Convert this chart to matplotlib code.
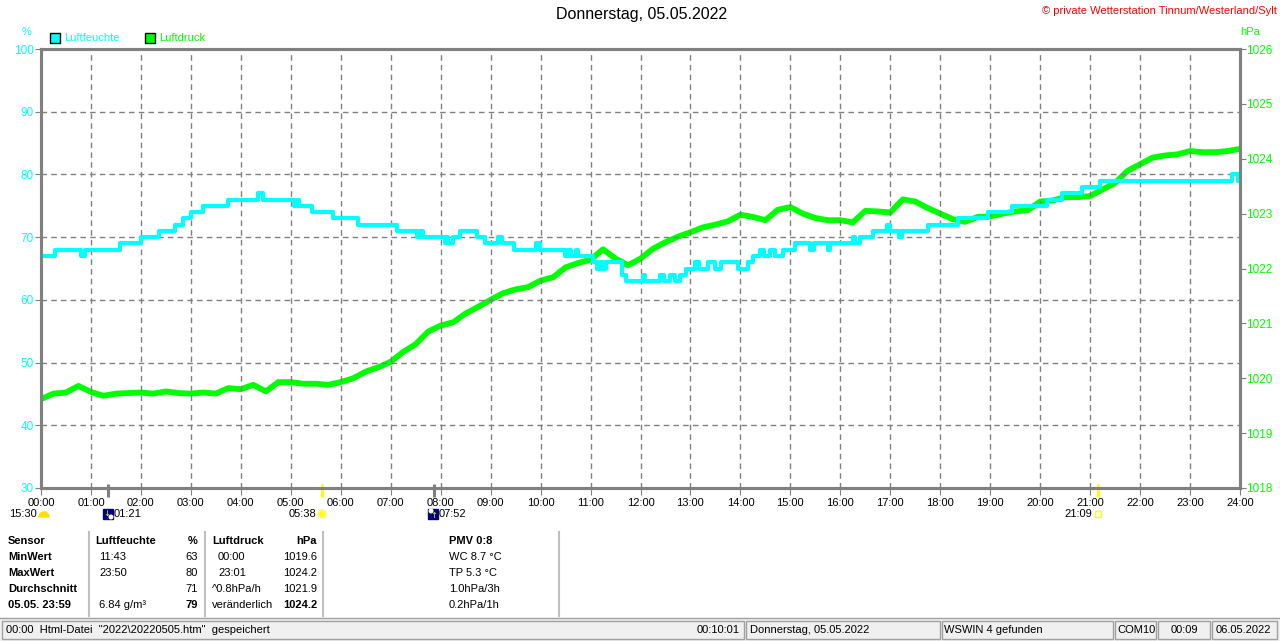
import numpy as np
import matplotlib
matplotlib.use("Agg")
from matplotlib import pyplot as plt
from matplotlib.patches import Rectangle, Circle, Wedge
from matplotlib.transforms import IdentityTransform

plt.rcParams['font.family'] = ['Liberation Sans', 'DejaVu Sans']

# humidity (%), step changes: hour -> value
hum_times = [0, 0.28, 0.80, 0.88, 1.58, 2.0, 2.36, 2.68, 2.85, 3.0, 3.25, 3.74,
             4.35, 4.45, 5.07, 5.12, 5.17, 5.42, 5.85, 6.35, 7.12, 7.52, 7.58,
             7.65, 8.08, 8.12, 8.14, 8.24, 8.39, 8.73, 8.89, 9.15, 9.22, 9.47,
             9.9, 9.98, 10.49, 10.55, 10.6, 10.7, 10.75, 11.05, 11.12, 11.18,
             11.25, 11.3, 11.62, 11.7, 12.05, 12.1, 12.4, 12.47, 12.6, 12.7,
             12.8, 12.92, 13.1, 13.18, 13.35, 13.5, 13.62, 13.95, 14.16, 14.26,
             14.4, 14.47, 14.6, 14.7, 14.85, 15.1, 15.4, 15.47, 15.75, 15.8,
             16.25, 16.3, 16.4, 16.65, 16.94, 16.99, 17.18, 17.23, 17.76, 18.35,
             18.96, 19.43, 20.13, 20.43, 20.84, 21.2, 23.83, 23.96, 24.0]
hum_values = [67, 68, 67, 68, 69, 70, 71, 72, 73, 74, 75, 76,
              77, 76, 75, 76, 75, 74, 73, 72, 71, 70, 71,
              70, 69, 70, 69, 70, 71, 70, 69, 70, 69, 68,
              69, 68, 67, 68, 67, 68, 67, 66, 65, 66,
              65, 66, 64, 63, 64, 63, 64, 63, 64, 63,
              64, 65, 66, 65, 66, 65, 66, 65, 66, 67,
              68, 67, 68, 67, 68, 69, 68, 69, 68, 69,
              70, 69, 70, 71, 72, 71, 70, 71, 72, 73,
              74, 75, 76, 77, 78, 79, 80, 79, 79]

# air pressure (hPa), every 15 minutes 00:00 .. 24:00
press_values = [1019.62, 1019.72, 1019.74, 1019.86, 1019.75, 1019.68, 1019.72, 1019.73,
                1019.74, 1019.72, 1019.76, 1019.73, 1019.72, 1019.74, 1019.72, 1019.82,
                1019.80, 1019.88, 1019.76, 1019.93, 1019.93, 1019.90, 1019.90, 1019.88,
                1019.93, 1020.00, 1020.12, 1020.20, 1020.30, 1020.48, 1020.62, 1020.85,
                1020.96, 1021.02, 1021.18, 1021.30, 1021.43, 1021.55, 1021.62, 1021.66,
                1021.78, 1021.84, 1022.02, 1022.10, 1022.16, 1022.35, 1022.18, 1022.06,
                1022.18, 1022.36, 1022.48, 1022.58, 1022.66, 1022.75, 1022.80, 1022.86,
                1022.98, 1022.94, 1022.88, 1023.07, 1023.12, 1023.00, 1022.92, 1022.88,
                1022.88, 1022.84, 1023.05, 1023.04, 1023.02, 1023.26, 1023.22, 1023.10,
                1023.00, 1022.90, 1022.85, 1022.94, 1022.95, 1023.00, 1023.04, 1023.06,
                1023.22, 1023.24, 1023.30, 1023.30, 1023.32, 1023.44, 1023.56, 1023.78,
                1023.90, 1024.02, 1024.06, 1024.08, 1024.14, 1024.12, 1024.12, 1024.14,
                1024.18]
press_times = np.linspace(0, 24, len(press_values))

hours = list(range(25))
hour_labels = ["%02d:00" % h for h in hours]
hum_ticks = [30, 40, 50, 60, 70, 80, 90, 100]
press_ticks = [1018, 1019, 1020, 1021, 1022, 1023, 1024, 1025, 1026]

CYAN = '#00FFFF'
GREEN = '#00FF00'
GRAY = '#808080'
YELLOW = '#FFFF00'

W, H = 1280, 641
PIX = IdentityTransform()


def fx(x):
    return x / W


def fy(y):
    return 1 - y / H


def txt(x, y, s, **kw):
    kw.setdefault('fontsize', 8)
    kw.setdefault('va', 'center')
    fig.text(fx(x), fy(y), s, **kw)


def rect(x, y, w, h, **kw):
    # x, y = top-left corner in image pixels
    fig.patches.append(Rectangle((x, H - y - h), w, h, transform=PIX, **kw))


fig = plt.figure(figsize=(12.8, 6.41), dpi=100)
fig.patch.set_facecolor('white')

ax = fig.add_axes([fx(41), fy(488), (1240 - 41) / W, (488 - 49) / H])
ax2 = ax.twinx()
# humidity on top of pressure
ax.set_zorder(ax2.get_zorder() + 1)
ax.patch.set_visible(False)

ax2.plot(press_times, press_values, color=GREEN, lw=4.2)
ax.step(hum_times, hum_values, where='post', color=CYAN, lw=3.0)

ax.set_xlim(0, 24)
ax.set_ylim(30, 100)
ax2.set_ylim(1018, 1026)

ax.set_xticks(hours)
ax.set_xticklabels(hour_labels)
ax.set_yticks(hum_ticks)
ax2.set_yticks(press_ticks)
ax.grid(True, color=GRAY, ls=(0, (4, 3)), lw=1.0)

ax.tick_params(axis='x', colors=GRAY, labelcolor='black', labelsize=8, length=5, pad=2)
ax.tick_params(axis='y', colors=GRAY, labelcolor=CYAN, labelsize=8.5, length=4, pad=1)
ax2.tick_params(axis='y', colors=GRAY, labelcolor=GREEN, labelsize=8.5, length=4, pad=0.5)

for a in (ax, ax2):
    for side in ('left', 'right', 'top', 'bottom'):
        a.spines[side].set_color(GRAY)
        a.spines[side].set_linewidth(2.2)

# rise/set marks on the time axis
ax.plot([1.35, 1.35], [30.6, 28.6], color=GRAY, lw=2.2, clip_on=False, solid_capstyle='butt')
ax.plot([5.63, 5.63], [30.6, 28.6], color=YELLOW, lw=2.2, clip_on=False, solid_capstyle='butt')
ax.plot([7.87, 7.87], [30.6, 28.6], color=GRAY, lw=2.2, clip_on=False, solid_capstyle='butt')
ax.plot([21.15, 21.15], [30.6, 28.6], color=YELLOW, lw=2.2, clip_on=False, solid_capstyle='butt')

# title and header texts
txt(642, 15, "Donnerstag, 05.05.2022", fontsize=11.5, ha='center')
txt(1277, 11, "\u00a9 private Wetterstation Tinnum/Westerland/Sylt", color='red', ha='right')
txt(27, 32, "%", color=CYAN, ha='center')
txt(1250, 32, "hPa", color=GREEN, ha='center')

# legend
rect(50, 33, 10, 10, facecolor=CYAN, edgecolor='black', lw=1)
txt(64, 38, "Luftfeuchte", color=CYAN)
rect(145, 33, 10, 10, facecolor=GREEN, edgecolor='black', lw=1)
txt(159, 38, "Luftdruck", color=GREEN)

# sun / moon row
txt(37, 514, "15:30", ha='right')
fig.patches.append(Wedge((44, H - 517), 5, 0, 180, transform=PIX,
                         facecolor='#FFE000', edgecolor='#FFE000'))
rect(103, 509, 10, 10, facecolor='#000080', edgecolor='#000080')
fig.patches.append(Circle((111, H - 517), 2.5, transform=PIX, facecolor='white', edgecolor='none'))
txt(107, 513, "\u2193", color=YELLOW, fontsize=6, ha='center', family='DejaVu Sans')
txt(114, 514, "01:21")
txt(316, 514, "05:38", ha='right')
fig.patches.append(Circle((322, H - 514), 4, transform=PIX,
                          facecolor=YELLOW, edgecolor='#FFF4A0', lw=1.5))
rect(428, 509, 10, 10, facecolor='#000080', edgecolor='#000080')
fig.patches.append(Circle((431, H - 511), 2.5, transform=PIX, facecolor='white', edgecolor='none'))
txt(434, 515, "\u2191", color=YELLOW, fontsize=6, ha='center', family='DejaVu Sans')
txt(439, 514, "07:52")
txt(1092, 514, "21:09", ha='right')
rect(1095, 511, 6, 6, facecolor='white', edgecolor=YELLOW, lw=1)

# data table
for xs in (89, 205, 323, 559):
    fig.lines.append(plt.Line2D([fx(xs), fx(xs)], [fy(532), fy(616)], transform=fig.transFigure,
                                color='#C0C0C0', lw=1.5))

rows_y = [541, 557, 573, 589, 605]
sensor_col = ["Sensor", "MinWert", "MaxWert", "Durchschnitt", "05.05. 23:59"]
hum_time_col = ["Luftfeuchte", "11:43", "23:50", "", "6.84 g/m\u00b3"]
hum_val_col = ["%", "63", "80", "71", "79"]
press_time_col = ["Luftdruck", "00:00", "23:01", "^0.8hPa/h", "ver\u00e4nderlich"]
press_val_col = ["hPa", "1019.6", "1024.2", "1021.9", "1024.2"]
extra_col = ["PMV 0:8", "WC 8.7 \u00b0C", "TP 5.3 \u00b0C", "1.0hPa/3h", "0.2hPa/1h"]

for i, y in enumerate(rows_y):
    head = i == 0
    last = i == 4
    txt(8, y, sensor_col[i], fontweight='bold')
    txt(95 if head else 99, y, hum_time_col[i], fontweight='bold' if head else 'normal')
    txt(198, y, hum_val_col[i], ha='right', fontweight='bold' if (head or last) else 'normal')
    txt(212 if (head or i > 2) else 218, y, press_time_col[i], fontweight='bold' if head else 'normal')
    txt(317, y, press_val_col[i], ha='right', fontweight='bold' if (head or last) else 'normal')
    txt(449, y, extra_col[i], fontweight='bold' if head else 'normal')

# status bar
rect(0, 618, W, 23, facecolor='#F0F0F0', edgecolor='none')
fig.lines.append(plt.Line2D([0, 1], [fy(618), fy(618)], transform=fig.transFigure,
                            color='#A0A0A0', lw=1))
panels = [(2, 744), (746, 940), (942, 1113), (1115, 1156), (1158, 1210), (1212, 1277)]
for x0, x1 in panels:
    rect(x0, 621, x1 - x0, 18, facecolor='#F0F0F0', edgecolor='#A0A0A0', lw=1)
txt(6, 630, '00:00  Html-Datei  "2022\\20220505.htm"  gespeichert')
txt(740, 630, "00:10:01", ha='right')
txt(750, 630, "Donnerstag, 05.05.2022")
txt(944, 630, "WSWIN 4 gefunden")
txt(1117, 630, "COM10")
txt(1184, 630, "00:09", ha='center')
txt(1216, 630, "06.05.2022")

fig.savefig("out.png", dpi=100)
